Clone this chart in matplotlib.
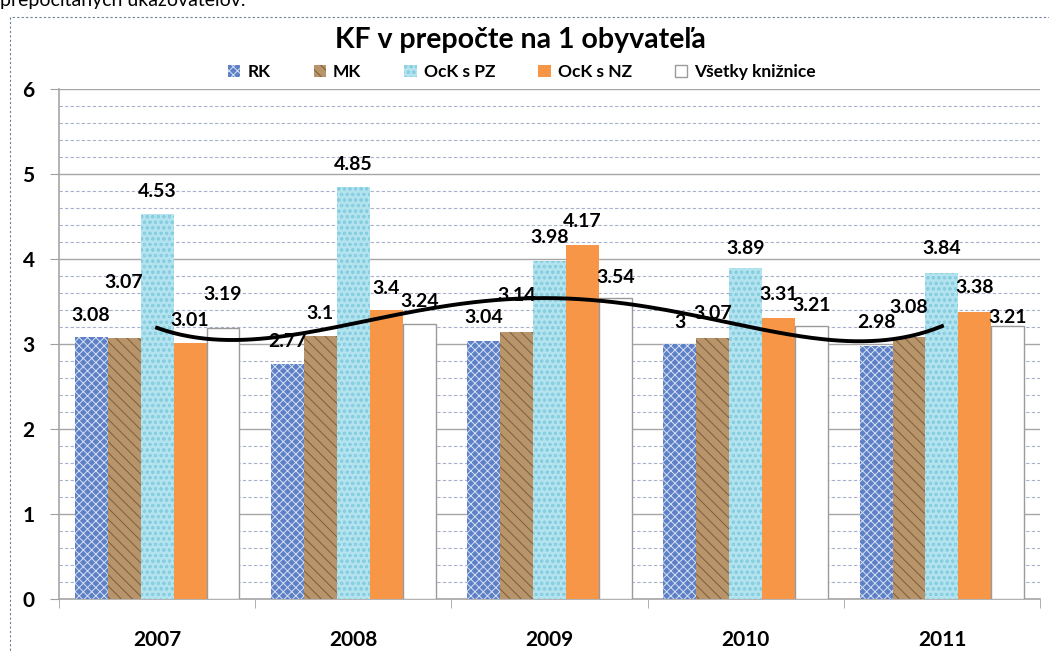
import numpy as np
import matplotlib.pyplot as plt
from matplotlib.patches import Rectangle

plt.rcParams['font.family'] = ['Lato', 'DejaVu Sans']
plt.rcParams['hatch.linewidth'] = 0.7

years = ['2007', '2008', '2009', '2010', '2011']
series = ['RK', 'MK', 'OcK s PZ', 'OcK s NZ', 'Všetky knižnice']
rk = [3.08, 2.77, 3.04, 3.00, 2.98]
mk = [3.07, 3.10, 3.14, 3.07, 3.08]
ock_pz = [4.53, 4.85, 3.98, 3.89, 3.84]
ock_nz = [3.01, 3.40, 4.17, 3.31, 3.38]
vsetky = [3.19, 3.24, 3.54, 3.21, 3.21]
labels_txt = [
    ['3.08', '2.77', '3.04', '3', '2.98'],
    ['3.07', '3.1', '3.14', '3.07', '3.08'],
    ['4.53', '4.85', '3.98', '3.89', '3.84'],
    ['3.01', '3.4', '4.17', '3.31', '3.38'],
    ['3.19', '3.24', '3.54', '3.21', '3.21'],
]

# bar styles (approximating the picture textures with hatches)
faces = ['#5d80c6', '#b8946b', '#b3e3ee', '#f79646', '#ffffff']
hatch_cols = ['#d6e0f3', '#7d5c3a', '#86cde0', '#f79646', '#9a9a9a']
hatches = ['xxxx', '\\\\\\', 'ooo', None, None]

# label lift above bar top, in pixels (Excel shifted some of them)
label_lift = [
    [22, 22, 23, 22, 23],
    [56, 22, 37, 25, 30],
    [22, 22, 23, 20, 24],
    [23, 22, 23, 23, 24],
    [33, 22, 21, 21, 9],
]

values = [rk, mk, ock_pz, ock_nz, vsetky]

fig = plt.figure(figsize=(10.49, 6.53), dpi=100)
ax = fig.add_axes([0.0562, 0.0827, 0.9353, 0.781])

x = np.arange(len(years))
w = 0.168
for i, (name, vals) in enumerate(zip(series, values)):
    pos = x + (i - 2) * w
    if hatches[i]:
        ax.bar(pos, vals, w, color=faces[i], edgecolor=hatch_cols[i], hatch=hatches[i],
               linewidth=0, label=name, zorder=3)
    else:
        ec = '#9a9a9a' if i == 4 else faces[i]
        ax.bar(pos, vals, w, color=faces[i], edgecolor=ec, linewidth=1.0 if i == 4 else 0,
               label=name, zorder=3)
    for j, v in enumerate(vals):
        ax.annotate(labels_txt[i][j], (pos[j], v), xytext=(0, label_lift[i][j]),
                    textcoords='offset pixels', ha='center', va='center',
                    fontsize=14, fontweight='bold', zorder=6)

# polynomial trendline (order 4) on Všetky knižnice
coef = np.polyfit(x, vsetky, 4)
xt = np.linspace(x[0], x[-1], 200)
ax.plot(xt, np.polyval(coef, xt), color='black', lw=2.8, zorder=5)

ax.set_xlim(-0.5, 4.5)
ax.set_ylim(0, 6)
ax.set_yticks(range(7))
ax.set_yticks(np.arange(0, 6.01, 0.2), minor=True)
ax.tick_params(axis='y', which='major', length=6.5, color='#a0a0a0', labelsize=15, pad=11)
ax.tick_params(axis='y', which='minor', length=0)
for t in ax.get_yticklabels():
    t.set_fontweight('bold')
ax.set_xticks(x)
ax.set_xticklabels(years, fontsize=15, fontweight='bold')
ax.set_xticks(np.arange(-0.5, 4.6, 1), minor=True)
ax.tick_params(axis='x', which='major', length=0, pad=22)
ax.tick_params(axis='x', which='minor', length=6.5, color='#a0a0a0')

ax.grid(axis='y', which='major', color='#a6a6a6', lw=1.0, zorder=0)
ax.grid(axis='y', which='minor', color='#a8b0cc', lw=0.8, ls=(0, (3, 2)), zorder=0)
ax.set_axisbelow(True)
for s in ['top', 'right']:
    ax.spines[s].set_visible(False)
for s in ['left', 'bottom']:
    ax.spines[s].set_color('#a6a6a6')
    ax.spines[s].set_linewidth(1.2)

fig.text(520 / 1049, 1 - 40 / 653, 'KF v prepočte na 1 obyvateľa', fontsize=20.5,
         fontweight='bold', ha='center', va='center')
handles, names = ax.get_legend_handles_labels()
leg = fig.legend(handles, names, loc='center', bbox_to_anchor=(522 / 1049, 1 - 72 / 653),
                 ncol=5, frameon=False, fontsize=12.5, handlelength=0.7, handleheight=0.7,
                 handletextpad=0.4, columnspacing=2.5, borderaxespad=0)
for t in leg.get_texts():
    t.set_fontweight('bold')

# dashed frame of the chart object and the cut-off text above it
fig.patches.append(Rectangle((10 / 1049, -0.1), 1.2, 1 - 17 / 653 + 0.1,
                             transform=fig.transFigure, fill=False,
                             edgecolor='#6f7f99', lw=0.8, ls=(0, (2, 2))))
fig.text(0.0, 1 - 6 / 653, 'prepočítaných ukazovateľov.', fontsize=14, va='baseline', ha='left')

fig.savefig('out.png', dpi=100)
